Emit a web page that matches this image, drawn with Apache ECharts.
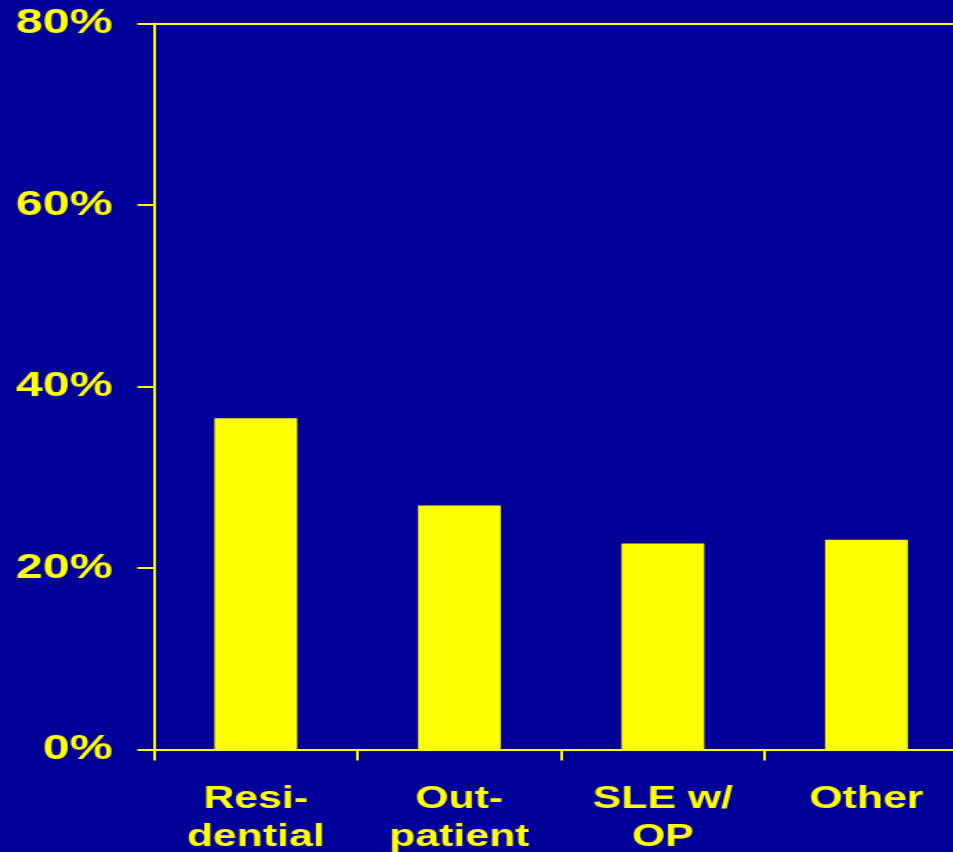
<!DOCTYPE html>
<html><head><meta charset="utf-8">
<script src="https://cdn.jsdelivr.net/npm/echarts@6/dist/echarts.min.js"></script>
<style>
html,body{margin:0;padding:0;background:#000099;overflow:hidden;width:953px;height:852px}
#c{width:691px;height:852px;transform:scaleX(1.38);transform-origin:0 0}
</style>
</head><body><div id="c"></div>
<script>
const categories = ['Resi-\ndential', 'Out-\npatient', 'SLE w/\nOP', 'Other'];
const values = [36.5, 26.9, 22.7, 23.1];
const yMin = 0, yMax = 80, yStep = 20;

const YELLOW = '#ffff00';
const FONT = '"Liberation Sans", Arial, Helvetica, sans-serif';
const chart = echarts.init(document.getElementById('c'), null, {renderer: 'canvas'});
chart.setOption({
  backgroundColor: '#000099',
  animation: false,
  grid: {left: 111.6, top: 23.5, bottom: 102.5, width: 590, containLabel: false, outerBoundsMode: 'none'},
  xAxis: [{
    type: 'category',
    data: categories,
    axisLine: {lineStyle: {color: YELLOW, width: 2}},
    axisTick: {show: true, length: 11, lineStyle: {color: YELLOW, width: 2}},
    axisLabel: {color: YELLOW, fontFamily: FONT, fontWeight: 'bold', fontSize: 31, lineHeight: 38, margin: 31, interval: 0}
  }, {
    type: 'category',
    position: 'top',
    data: categories,
    axisLine: {show: true, lineStyle: {color: YELLOW, width: 2}},
    axisTick: {show: false},
    axisLabel: {show: false}
  }],
  yAxis: {
    type: 'value',
    min: yMin, max: yMax, interval: yStep,
    axisLine: {show: true, lineStyle: {color: YELLOW, width: 2}},
    axisTick: {show: true, length: 12, lineStyle: {color: YELLOW, width: 2}},
    splitLine: {show: false},
    axisLabel: {color: YELLOW, fontFamily: FONT, fontWeight: 'bold', fontSize: 35, margin: 30, padding: [6, 0, 0, 0], formatter: '{value}%'}
  },
  series: [{
    type: 'bar',
    data: values,
    barWidth: 60,
    itemStyle: {color: YELLOW}
  }]
});
</script>
</body></html>
